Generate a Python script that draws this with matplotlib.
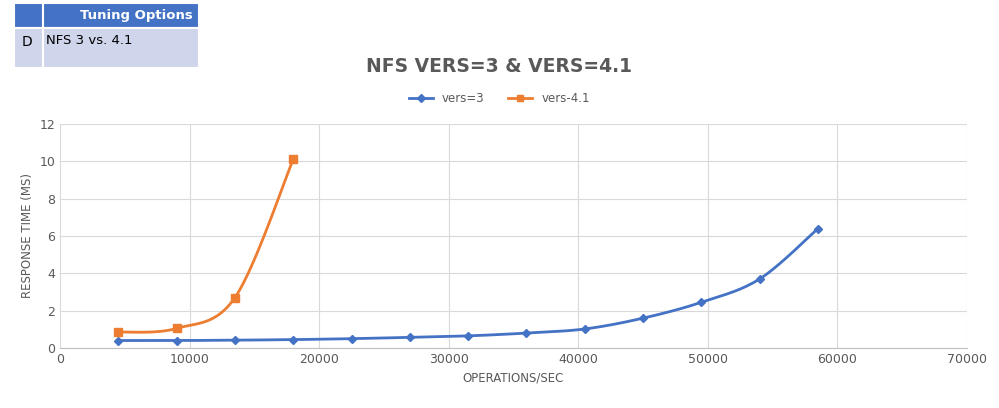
import numpy as np
import matplotlib
matplotlib.use("Agg")
import matplotlib.pyplot as plt
from matplotlib.patches import Rectangle

x_v3 = [4500, 9000, 13500, 18000, 22500, 27000, 31500, 36000, 40500, 45000, 49500, 54000, 58500]
y_v3 = [0.40, 0.40, 0.42, 0.45, 0.50, 0.57, 0.65, 0.80, 1.02, 1.60, 2.45, 3.70, 6.40]
x_v41 = [4500, 9000, 13500, 18000]
y_v41 = [0.85, 1.05, 2.70, 10.10]

def smooth(x, y, n=30):
    x = np.asarray(x, float); y = np.asarray(y, float)
    P = np.column_stack([x, y])
    P = np.vstack([P[0], P, P[-1]])
    out = []
    for i in range(1, len(P) - 2):
        p0, p1, p2, p3 = P[i-1], P[i], P[i+1], P[i+2]
        for t in np.linspace(0, 1, n, endpoint=False):
            t2, t3 = t*t, t*t*t
            pt = 0.5*((2*p1) + (-p0+p2)*t + (2*p0-5*p1+4*p2-p3)*t2 + (-p0+3*p1-3*p2+p3)*t3)
            out.append(pt)
    out.append(P[-2])
    out = np.array(out)
    return out[:, 0], out[:, 1]

fig = plt.figure(figsize=(9.99, 4.08), dpi=100)
ax = fig.add_axes([60/999, 1-348/408, 907/999, 224/408])
c1, c2 = "#4472C4", "#ED7D31"
sx, sy = smooth(x_v3, y_v3)
ax.plot(sx, sy, color=c1, lw=2)
ax.plot(x_v3, y_v3, ls="none", marker="D", ms=4, color=c1)
sx, sy = smooth(x_v41, y_v41)
ax.plot(sx, sy, color=c2, lw=2)
ax.plot(x_v41, y_v41, ls="none", marker="s", ms=6, color=c2)
ax.plot([], [], color=c1, marker="D", ms=4, lw=2, label="vers=3")
ax.plot([], [], color=c2, marker="s", ms=5, lw=2, label="vers-4.1")

ax.set_xlim(0, 70000); ax.set_ylim(0, 12)
ax.set_xticks(range(0, 70001, 10000)); ax.set_yticks(range(0, 13, 2))
ax.grid(True, color="#D9D9D9", lw=0.8); ax.set_axisbelow(True)
for s in ["top", "right", "left"]:
    ax.spines[s].set_visible(False)
ax.spines["bottom"].set_color("#BFBFBF")
ax.tick_params(length=0, labelsize=9, colors="#595959")
ax.set_xlabel("OPERATIONS/SEC", fontsize=8.5, color="#595959")
ax.set_ylabel("RESPONSE TIME (MS)", fontsize=8.5, color="#595959")
h, l = ax.get_legend_handles_labels()
fig.legend(h[-2:], l[-2:], loc="center", bbox_to_anchor=(0.5, 1-99/408), ncol=2, frameon=False, fontsize=8.5, labelcolor="#595959")
fig.text(0.5, 1-66/408, "NFS VERS=3 & VERS=4.1", ha="center", va="center", fontsize=13.5, fontweight="bold", color="#595959")

# table
W, H = 999, 408
def rect(x0, y0, x1, y1, fc):
    fig.patches.append(Rectangle((x0/W, 1-y1/H), (x1-x0)/W, (y1-y0)/H, transform=fig.transFigure, fc=fc, ec="white", lw=1.5))
rect(14, 3, 43, 28, "#4472C4"); rect(43, 3, 199, 28, "#4472C4")
rect(14, 28, 43, 68, "#CFD5EA"); rect(43, 28, 199, 68, "#CFD5EA")
fig.text(80/W, 1-16/H, "Tuning Options", color="white", fontweight="bold", fontsize=9.5, va="center")
fig.text(22/W, 1-42/H, "D", fontsize=10, va="center")
fig.text(46/W, 1-40/H, "NFS 3 vs. 4.1", fontsize=9.5, va="center")
fig.savefig("out.png", dpi=100)
